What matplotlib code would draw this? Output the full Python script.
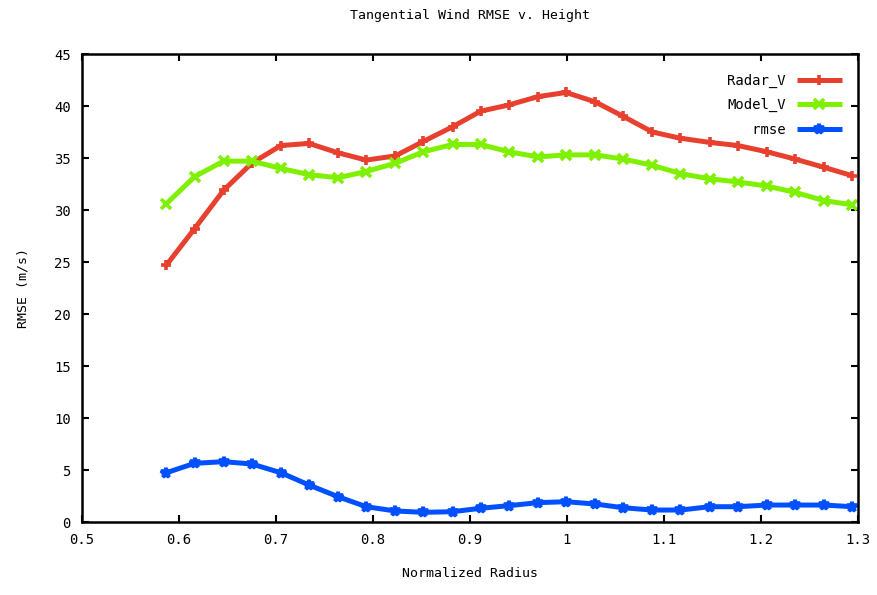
import matplotlib
matplotlib.use('Agg')
import matplotlib.pyplot as plt

radius = [0.587, 0.616, 0.646, 0.675, 0.705, 0.734, 0.764, 0.793, 0.823, 0.852,
          0.882, 0.911, 0.940, 0.970, 0.999, 1.029, 1.058, 1.088, 1.117, 1.147,
          1.176, 1.206, 1.235, 1.265, 1.294]
radar_v = [24.7, 28.2, 31.9, 34.5, 36.2, 36.4, 35.5, 34.8, 35.2, 36.6,
           38.0, 39.5, 40.1, 40.9, 41.3, 40.4, 39.0, 37.5, 36.9, 36.5,
           36.2, 35.6, 34.9, 34.1, 33.3]
model_v = [30.6, 33.2, 34.7, 34.7, 34.0, 33.4, 33.1, 33.7, 34.5, 35.6,
           36.3, 36.3, 35.6, 35.1, 35.3, 35.3, 34.9, 34.3, 33.5, 33.0,
           32.7, 32.3, 31.7, 30.9, 30.5]
rmse    = [4.74, 5.64, 5.80, 5.58, 4.74, 3.56, 2.43, 1.47, 1.06, 0.93,
           0.99, 1.32, 1.57, 1.86, 1.95, 1.73, 1.37, 1.15, 1.15, 1.47,
           1.47, 1.63, 1.63, 1.63, 1.47]

xticks = [0.5, 0.6, 0.7, 0.8, 0.9, 1.0, 1.1, 1.2, 1.3]
xticklabels = ["0.5", "0.6", "0.7", "0.8", "0.9", "1", "1.1", "1.2", "1.3"]
yticks = [0, 5, 10, 15, 20, 25, 30, 35, 40, 45]

FONT = "DejaVu Sans Mono"
plt.rcParams['font.family'] = FONT
plt.rcParams['font.size'] = 9

fig = plt.figure(figsize=(8.77, 5.95), dpi=100)
ax = fig.add_axes([82 / 877, 73 / 595, 776 / 877, 468 / 595])

series = [
    ("Radar_V", radar_v, "#e8402f", "+"),
    ("Model_V", model_v, "#7ff000", "x"),
    ("   rmse", rmse, "#0050ff", "*"),
]
for label, vals, color, mk in series:
    ax.plot(radius, vals, color=color, lw=3.6, marker=mk, markersize=7.5,
            markeredgewidth=2.6, label=label, solid_capstyle='butt')

ax.set_xlim(0.5, 1.3)
ax.set_ylim(0, 45)
ax.set_xticks(xticks)
ax.set_xticklabels(xticklabels)
ax.set_yticks(yticks)
ax.tick_params(direction='in', length=5, width=1.5, top=True, right=True,
               labelsize=10, pad=8, colors='black')
for s in ax.spines.values():
    s.set_linewidth(1.8)

ax.set_title("Tangential Wind RMSE v. Height", fontsize=9.5, pad=25)
ax.set_xlabel("Normalized Radius", fontsize=9.5, labelpad=14)
ax.set_ylabel("RMSE (m/s)", fontsize=9.5, labelpad=18)

leg = ax.legend(loc='upper right', frameon=False, markerfirst=False,
                handlelength=3.2, fontsize=10, labelspacing=0.75,
                bbox_to_anchor=(0.995, 0.985), handletextpad=0.8)

fig.savefig("out.png", dpi=100)
